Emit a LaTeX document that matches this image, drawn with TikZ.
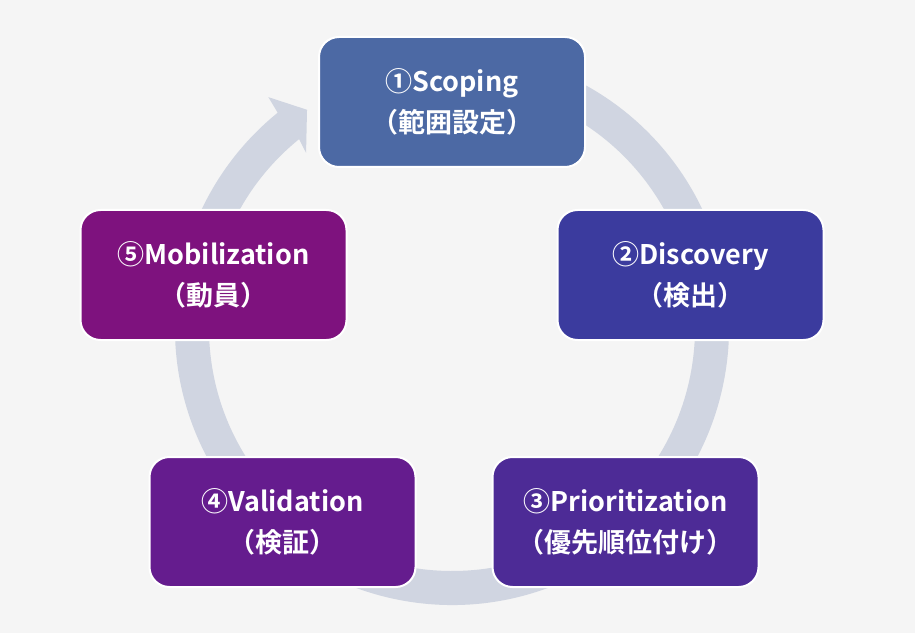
\documentclass[tikz,border=0pt]{standalone}
\usepackage{fontspec}
\newfontfamily\jpfont{Noto Sans CJK JP Bold}
\usepackage{xcolor}
\usetikzlibrary{calc}

\definecolor{bgGray}{HTML}{F5F5F5}
\definecolor{ringGray}{HTML}{D0D5E1}
\definecolor{scopeBlue}{HTML}{4C69A4}
\definecolor{discIndigo}{HTML}{3B3B9E}
\definecolor{prioViolet}{HTML}{4D2B96}
\definecolor{valiPurple}{HTML}{651C8E}
\definecolor{mobiMagenta}{HTML}{7E127E}

\begin{document}
\begin{tikzpicture}[
  x=1pt, y=1pt,
  every node/.style={font=\jpfont\fontsize{27}{41}\selectfont},
  phase/.style={rectangle, draw=white, line width=2pt, rounded corners=20pt,
                minimum width=266pt, minimum height=130pt,
                text=white, align=center, inner sep=0pt},
]

% Background
\useasboundingbox (0,0) rectangle (915,633);
\fill[bgGray] (0,0) rectangle (915,633);

% Cycle ring with arrow head
\coordinate (c) at (452,305);
\fill[ringGray] ($(c)+(80:277)$) arc[start angle=80, end angle=-231, radius=277]
  -- ($(c)+(128.5:295)$) -- ($(c)+(123.6:262)$) -- ($(c)+(129.8:228)$)
  -- ($(c)+(129:243)$) arc[start angle=-231, end angle=80, radius=243] -- cycle;

% Phases
\node[phase, fill=scopeBlue] (scope) at (452, 531) {①Scoping\\（範囲設定）};
\node[phase, fill=discIndigo] (disc) at (690.5, 358) {②Discovery\\（検出）};
\node[phase, fill=prioViolet] (prio) at (625.5, 111) {③Prioritization\\（優先順位付け）};
\node[phase, fill=valiPurple] (vali) at (282.5, 111) {④Validation\\（検証）};
\node[phase, fill=mobiMagenta] (mobi) at (213.5, 358) {⑤Mobilization\\（動員）};

\end{tikzpicture}
\end{document}
